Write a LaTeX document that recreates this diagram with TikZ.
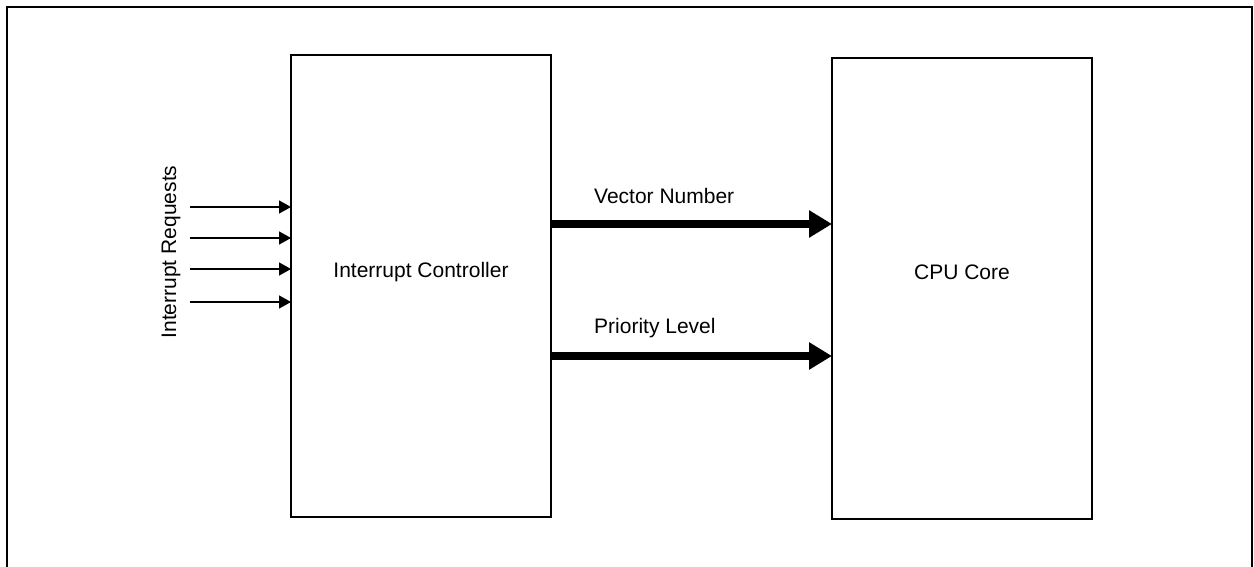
\documentclass[tikz,border=0pt]{standalone}
\usepackage{fontspec}
\setmainfont{Liberation Sans}
\usetikzlibrary{arrows.meta,positioning}

\tikzset{
  block/.style={draw, line width=2pt, minimum width=260pt, minimum height=462pt, inner sep=0pt, outer sep=0pt},
  lbl/.style={inner sep=0pt, font=\fontsize{21}{25}\selectfont},
  irq/.style={line width=1.6pt, -{Triangle[length=12pt,width=13pt]}},
  bus/.style={line width=8pt, -{Triangle[length=23pt,width=26pt]}}
}

\begin{document}
\begin{tikzpicture}[x=1pt, y=-1pt]
    \useasboundingbox (0,0) rectangle (1254,567);
    \draw[line width=2.5pt] (7,575) -- (7,7) -- (1252,7) -- (1252,575);

    \node[block] (ctrl) at (421,286) {};
    \node[block, minimum height=461pt] (cpu) at (962,288.5) {};
    \node[lbl] (ctrltext) at (421,272) {Interrupt Controller};
    \node[lbl] (cputext) at (962,272) {CPU Core};

    % interrupt request lines
    \foreach \y [count=\i] in {207,238,269,302} {
        \coordinate (irq\i) at (190,\y);
        \draw[irq] (irq\i) -- (irq\i -| ctrl.west);
    }
    \node[lbl, rotate=90] (irqtext) at (171,252) {Interrupt Requests};

    % buses to the core
    \coordinate (vec) at (551,224);
    \coordinate (prio) at (551,356);
    \draw[bus] (vec) -- (vec -| cpu.west);
    \draw[bus] (prio) -- (prio -| cpu.west);
    \node[lbl, anchor=west] (vectext) at (594,196) {Vector Number};
    \node[lbl, anchor=west] (priotext) at (594,328) {Priority Level};
\end{tikzpicture}
\end{document}
